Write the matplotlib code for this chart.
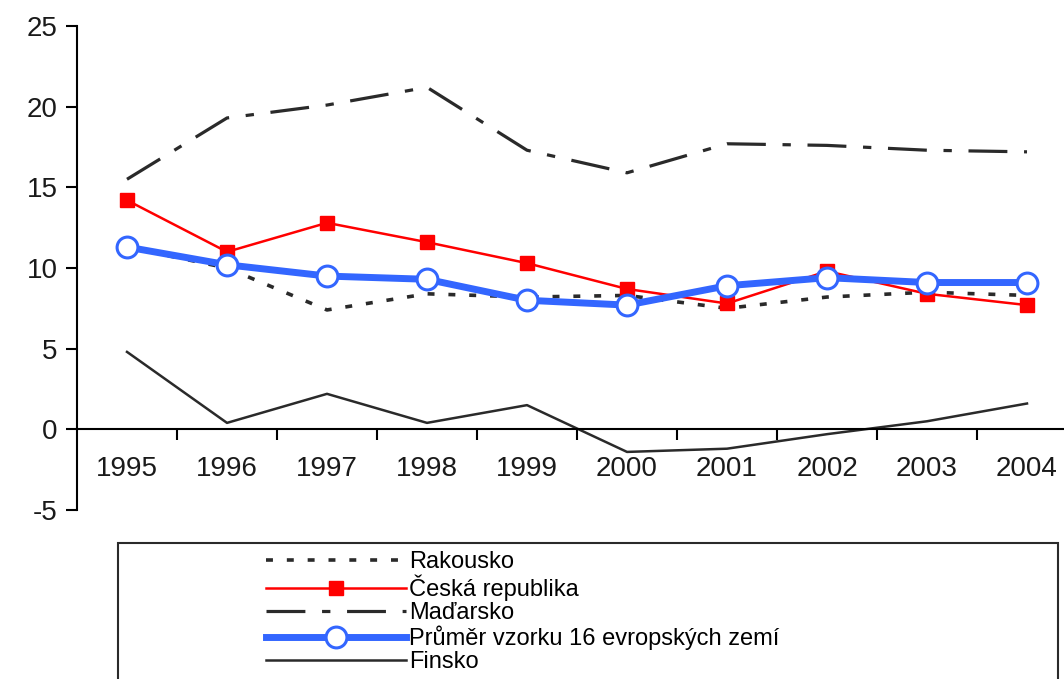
import matplotlib.pyplot as plt
from matplotlib.patches import Rectangle

plt.rcParams['font.family'] = ['Liberation Sans', 'DejaVu Sans']
plt.rcParams['lines.scale_dashes'] = False
plt.rcParams['axes.unicode_minus'] = False

years = ['1995', '1996', '1997', '1998', '1999', '2000', '2001', '2002', '2003', '2004']
rakousko = [11.3, 10.0, 7.4, 8.4, 8.2, 8.3, 7.5, 8.2, 8.5, 8.3]
cesko = [14.2, 11.0, 12.8, 11.6, 10.3, 8.7, 7.8, 9.8, 8.4, 7.7]
madarsko = [15.5, 19.3, 20.1, 21.2, 17.3, 15.9, 17.7, 17.6, 17.3, 17.2]
prumer = [11.3, 10.2, 9.5, 9.3, 8.0, 7.7, 8.9, 9.4, 9.1, 9.1]
finsko = [4.8, 0.4, 2.2, 0.4, 1.5, -1.4, -1.2, -0.3, 0.5, 1.6]
labels = ['Rakousko', 'Česká republika', 'Maďarsko',
          'Průměr vzorku 16 evropských zemí', 'Finsko']

fig = plt.figure(figsize=(10.64, 6.79), dpi=100)
ax = fig.add_axes([77 / 1064, 1 - 510 / 679, 1000 / 1064, 484 / 679])

x = range(len(years))
dark = '#2a2a2a'
l1, = ax.plot(x, rakousko, color=dark, lw=2.6, dashes=(5, 10), zorder=2)
l5, = ax.plot(x, finsko, color=dark, lw=1.8, zorder=2)
l3, = ax.plot(x, madarsko, color=dark, lw=2.3, dashes=(28, 12, 6, 12), zorder=2)
l2, = ax.plot(x, cesko, color='#ff0000', lw=1.8, marker='s', ms=10,
              mec='#ff0000', mfc='#ff0000', zorder=3)
l4, = ax.plot(x, prumer, color='#3366ff', lw=5, marker='o', ms=15,
              mfc='white', mec='#3366ff', mew=2.2, zorder=4)

ax.set_xlim(-0.5, 9.5)
ax.set_ylim(-5, 25)
ax.set_yticks(range(-5, 30, 5))
ax.spines['top'].set_visible(False)
ax.spines['right'].set_visible(False)
ax.spines['bottom'].set_position(('data', 0))
ax.spines['left'].set_linewidth(1.5)
ax.spines['bottom'].set_linewidth(1.5)

ax.set_xticks([i + 0.5 for i in range(len(years))])
ax.set_xticklabels([])
ax.set_xticks(list(x), minor=True)
ax.set_xticklabels(years, minor=True)
ax.tick_params(axis='x', which='major', direction='out', length=8, width=1.5)
ax.tick_params(axis='x', which='minor', length=0, pad=19, labelsize=20, labelcolor='#1a1a1a')
ax.tick_params(axis='y', direction='out', length=8, width=1.5, labelsize=20,
               labelcolor='#1a1a1a', pad=6)

fig.patches.append(Rectangle((118 / 1064, -0.05), 940 / 1064, 0.05 + 1 - 543 / 679,
                             transform=fig.transFigure, fill=False,
                             edgecolor=dark, lw=1.5))
fig.legend([l1, l2, l3, l4, l5], labels, loc='upper left',
           bbox_to_anchor=(264 / 1064, 1 - 549 / 679), frameon=False,
           fontsize=17, handlelength=5.9, handletextpad=0.15,
           labelspacing=0.05, borderpad=0.1, borderaxespad=0)

fig.savefig('out.png', dpi=100)
